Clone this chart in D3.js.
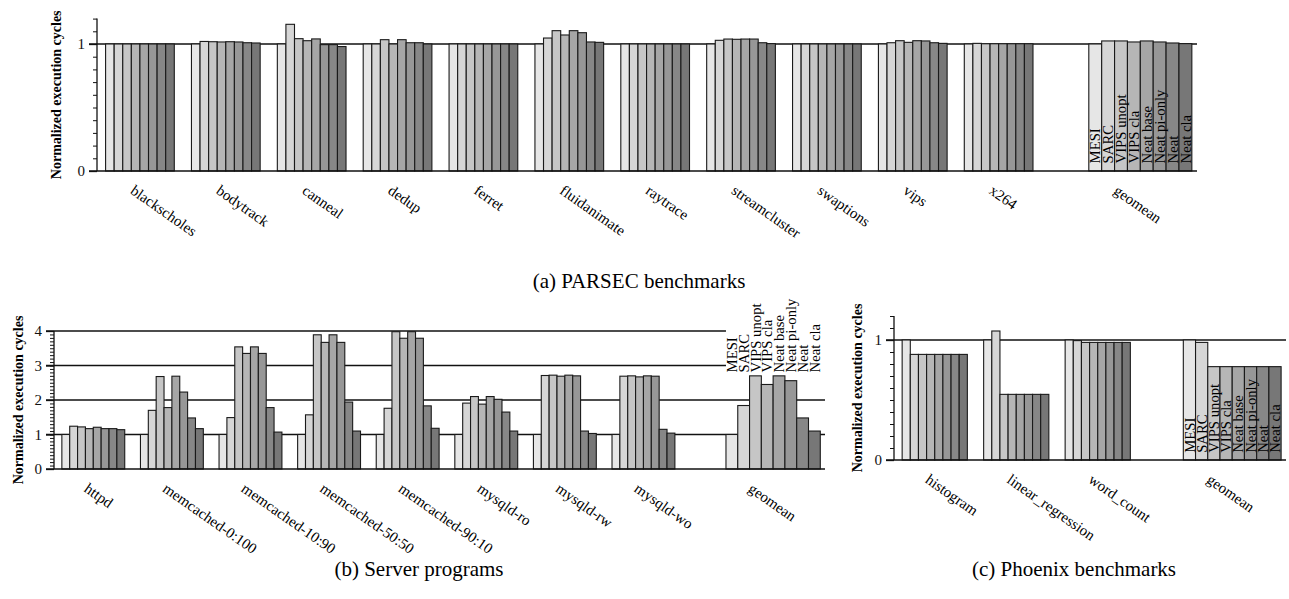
<!DOCTYPE html>
<html>
<head>
<meta charset="utf-8">
<script src="https://cdn.jsdelivr.net/npm/d3@7"></script>
<style>
  html, body { margin: 0; padding: 0; background: #fff; }
  svg { display: block; }
  svg text { font-family: "Liberation Serif", "Times New Roman", serif; }
</style>
</head>
<body>
<div id="viz"></div>
<script>
// series (one bar per scheme, light to dark)
const series = ['MESI', 'SARC', 'VIPS unopt', 'VIPS cla', 'Neat base', 'Neat pi-only', 'Neat', 'Neat cla'];
const seriesColors = ['#e6e6e6', '#d6d6d6', '#c6c6c6', '#b6b6b6', '#a6a6a6', '#979797', '#878787', '#777777'];

// (a) PARSEC
const parsecBenchmarks = ['blackscholes', 'bodytrack', 'canneal', 'dedup', 'ferret', 'fluidanimate',
  'raytrace', 'streamcluster', 'swaptions', 'vips', 'x264'];
const parsecValues = [
  [1.0, 1.0, 1.0, 1.0, 1.0, 1.0, 1.0, 1.0],
  [1.0, 1.02, 1.018, 1.016, 1.018, 1.016, 1.01, 1.008],
  [1.0, 1.155, 1.042, 1.026, 1.04, 0.995, 0.995, 0.98],
  [1.0, 1.0, 1.034, 1.0, 1.034, 1.01, 1.01, 1.0],
  [1.0, 1.0, 1.0, 1.0, 1.0, 1.0, 1.0, 1.0],
  [1.0, 1.047, 1.105, 1.071, 1.105, 1.089, 1.016, 1.013],
  [1.0, 1.0, 1.0, 1.0, 1.0, 1.0, 1.0, 1.0],
  [1.0, 1.029, 1.039, 1.037, 1.039, 1.039, 1.01, 1.003],
  [1.0, 1.0, 1.0, 1.0, 1.0, 1.0, 1.0, 1.0],
  [1.0, 1.01, 1.026, 1.013, 1.026, 1.024, 1.01, 1.005],
  [1.0, 1.005, 1.002, 1.002, 1.002, 1.002, 1.002, 1.002]
];
const parsecGeomean = [1.0, 1.024, 1.024, 1.016, 1.024, 1.016, 1.008, 1.003];
const parsecTicks = [0, 1];
const parsecGrid = [1];

// (b) Server programs
const serverPrograms = ['httpd', 'memcached-0:100', 'memcached-10:90', 'memcached-50:50',
  'memcached-90:10', 'mysqld-ro', 'mysqld-rw', 'mysqld-wo'];
const serverValues = [
  [1.0, 1.24, 1.22, 1.17, 1.21, 1.17, 1.17, 1.14],
  [1.0, 1.70, 2.68, 1.78, 2.69, 2.23, 1.48, 1.17],
  [1.0, 1.49, 3.54, 3.35, 3.54, 3.35, 1.78, 1.07],
  [1.0, 1.57, 3.89, 3.67, 3.89, 3.67, 1.94, 1.10],
  [1.0, 1.76, 3.98, 3.79, 3.98, 3.79, 1.83, 1.18],
  [1.0, 1.91, 2.10, 1.88, 2.10, 2.02, 1.65, 1.10],
  [1.0, 2.71, 2.72, 2.69, 2.72, 2.70, 1.10, 1.03],
  [1.0, 2.69, 2.70, 2.67, 2.70, 2.69, 1.15, 1.04]
];
const serverGeomean = [1.0, 1.84, 2.70, 2.45, 2.70, 2.56, 1.48, 1.10];
const serverTicks = [0, 1, 2, 3, 4];
const serverGrid = [1, 2, 3, 4];

// (c) Phoenix
const phoenixBenchmarks = ['histogram', 'linear_regression', 'word_count'];
const phoenixValues = [
  [1.0, 0.88, 0.88, 0.88, 0.88, 0.88, 0.88, 0.88],
  [1.0, 1.075, 0.547, 0.547, 0.547, 0.547, 0.547, 0.547],
  [1.0, 0.995, 0.98, 0.98, 0.98, 0.98, 0.98, 0.98]
];
const phoenixGeomean = [1.0, 0.98, 0.778, 0.778, 0.778, 0.778, 0.778, 0.778];
const phoenixTicks = [0, 1];
const phoenixGrid = [1];

const W = 1289, H = 599;

const svg = d3.select('#viz').append('svg')
  .attr('width', W).attr('height', H)
  .style('background', '#fff');

function drawPanel(p) {
  const n = p.names.length;
  const gStart = n + 0.55, gEnd = gStart + 1.2;
  const x = d3.scaleLinear().domain([0, gEnd + 0.06]).range([p.left, p.right]);
  const y = d3.scaleLinear().domain([0, p.yMax]).range([p.y0, p.yTop]);
  const g = svg.append('g');

  // grid lines
  g.selectAll('line.grid').data(p.grid).enter().append('line')
    .attr('x1', p.left - 8).attr('x2', p.right)
    .attr('y1', d => y(d)).attr('y2', d => y(d))
    .attr('stroke', '#111').attr('stroke-width', 1.3);

  const legendBase = y(p.legendAt);
  if (p.legendBox) {
    g.append('rect')
      .attr('x', x(gStart)).attr('width', p.right - x(gStart) + 2)
      .attr('y', legendBase - 72).attr('height', 74)
      .attr('fill', '#fff');
  }

  const groups = p.values.map((vals, i) => ({ name: p.names[i], vals, a: i + 0.1, b: i + 0.9 }));
  groups.push({ name: 'geomean', vals: p.geomean, a: gStart, b: gEnd });

  groups.forEach(gr => {
    const band = d3.scaleBand().domain(series).range([x(gr.a), x(gr.b)]);
    g.selectAll(null).data(gr.vals).enter().append('rect')
      .attr('x', (d, j) => band(series[j]))
      .attr('width', band.bandwidth())
      .attr('y', d => y(Math.min(d, p.yMax)))
      .attr('height', d => y(0) - y(Math.min(d, p.yMax)))
      .attr('fill', (d, j) => seriesColors[j])
      .attr('stroke', '#1a1a1a').attr('stroke-width', 1.1);

    g.append('text')
      .attr('transform', `translate(${x(gr.a + 0.35)},${p.y0 + 13}) rotate(35)`)
      .attr('dy', '0.72em')
      .attr('font-size', 15)
      .text(gr.name);

    if (gr.name === 'geomean') {
      g.selectAll(null).data(series).enter().append('text')
        .attr('transform', d => `translate(${band(d) + band.bandwidth() / 2},${legendBase}) rotate(-90)`)
        .attr('dy', '0.35em')
        .attr('font-size', 14.7)
        .text(d => d);
    }
  });

  // y axis: minor ticks, then major
  const minor = d3.range(0, p.yMax + 1e-6, 0.1);
  g.append('g').attr('transform', `translate(${p.left},0)`)
    .call(d3.axisLeft(y).tickValues(minor).tickSize(4).tickFormat(''))
    .call(a => a.select('.domain').remove())
    .call(a => a.selectAll('line').attr('stroke', '#111'));
  const major = g.append('g').attr('transform', `translate(${p.left},0)`)
    .call(d3.axisLeft(y).tickValues(p.ticks).tickSize(8).tickPadding(4).tickFormat(d3.format('d')));
  major.select('.domain').remove();
  major.selectAll('line').attr('stroke', '#111').attr('stroke-width', 1.3);
  major.selectAll('text').attr('font-family', null).attr('font-size', 15).attr('fill', '#111');

  g.append('line')
    .attr('x1', p.left).attr('x2', p.left)
    .attr('y1', y(0)).attr('y2', y(p.yMax))
    .attr('stroke', '#111').attr('stroke-width', 1.3);
  g.append('line')
    .attr('x1', p.left - 8).attr('x2', p.right)
    .attr('y1', y(0)).attr('y2', y(0))
    .attr('stroke', '#111').attr('stroke-width', 1.6);

  g.append('text')
    .attr('transform', `translate(${p.titleX},${(p.y0 + p.yTop) / 2}) rotate(-90)`)
    .attr('dy', '0.35em').attr('text-anchor', 'middle')
    .attr('font-size', 14).attr('font-weight', 'bold')
    .text('Normalized execution cycles');

  g.append('text')
    .attr('x', p.capX).attr('y', p.capY)
    .attr('text-anchor', 'middle')
    .attr('font-size', 21)
    .text(p.caption);
}

drawPanel({ names: parsecBenchmarks, values: parsecValues, geomean: parsecGeomean,
  ticks: parsecTicks, grid: parsecGrid, yMax: 1.2,
  left: 97, right: 1197, y0: 171, yTop: 18.6, legendAt: 0.06, legendBox: false,
  titleX: 56, caption: '(a) PARSEC benchmarks', capX: 639, capY: 288 });

drawPanel({ names: serverPrograms, values: serverValues, geomean: serverGeomean,
  ticks: serverTicks, grid: serverGrid, yMax: 4,
  left: 54, right: 825, y0: 469, yTop: 331, legendAt: 2.8, legendBox: true,
  titleX: 18, caption: '(b) Server programs', capX: 419, capY: 576 });

drawPanel({ names: phoenixBenchmarks, values: phoenixValues, geomean: phoenixGeomean,
  ticks: phoenixTicks, grid: phoenixGrid, yMax: 1.2,
  left: 894, right: 1286, y0: 460, yTop: 316, legendAt: 0.06, legendBox: false,
  titleX: 857, caption: '(c) Phoenix benchmarks', capX: 1074, capY: 576 });
</script>
</body>
</html>
